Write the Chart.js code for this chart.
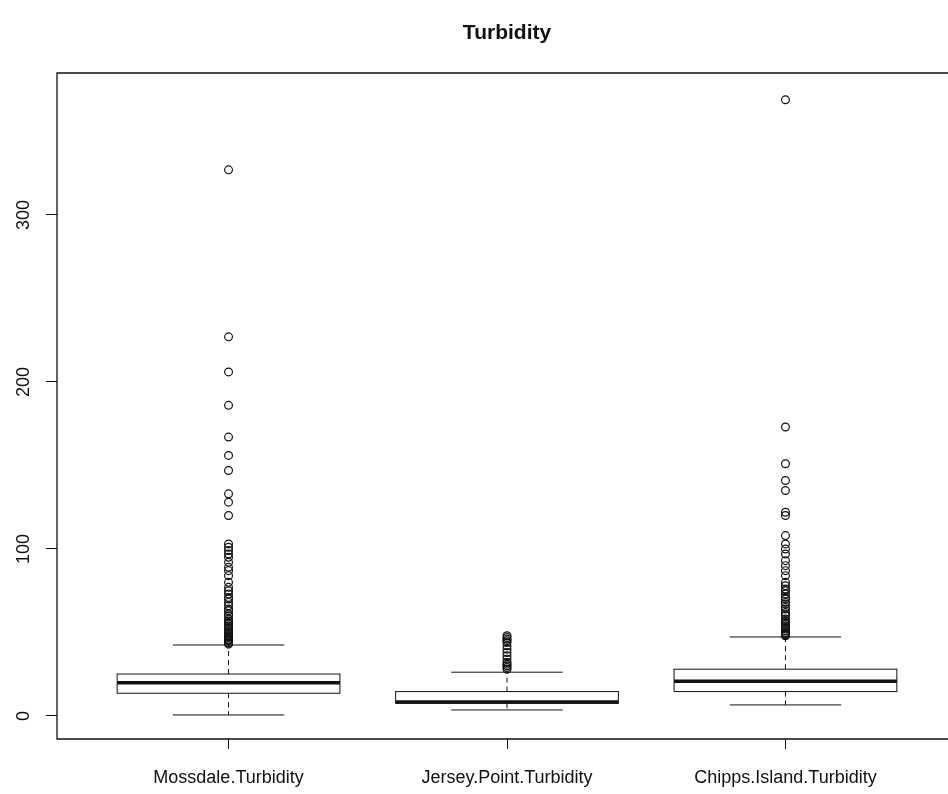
<!DOCTYPE html>
<html lang="en">
<head>
<meta charset="UTF-8">
<title>Turbidity</title>
<script src="https://cdn.jsdelivr.net/npm/chart.js@4.4.0/dist/chart.umd.min.js"></script>
<style>
  html, body { margin: 0; padding: 0; background: #fff; }
  #chart { display: block; }
</style>
</head>
<body>
<canvas id="chart" width="948" height="794"></canvas>
<script>
// valores
const categorias = ['Mossdale.Turbidity', 'Jersey.Point.Turbidity', 'Chipps.Island.Turbidity'];
const bigodeInferior = [0.6, 3.6, 6.6];
const quartil1 = [13.6, 7.6, 14.6];
const mediana = [19.9, 8.4, 20.8];
const quartil3 = [25.1, 14.6, 28.0];
const bigodeSuperior = [42.5, 26.2, 47.3];

const outliersMossdale = [327, 227, 206, 186, 167, 156, 147, 133, 128, 120,
  103, 101, 99, 97, 95, 92, 89, 87, 84, 80, 77, 75, 73, 71, 70, 68, 66, 64, 63, 61,
  60, 58, 57, 56, 55, 54, 53, 52, 51, 50, 49, 48, 47.5, 47, 46, 45.5, 45, 44, 43.5, 43];
const outliersJersey = [48, 47, 46, 45, 44, 42, 40, 38, 36, 34, 32, 31, 30, 29, 28];
const outliersChipps = [369, 173, 151, 141, 135, 122, 120, 108, 103, 100, 97, 93, 90, 87, 84,
  80, 78, 76, 75, 73, 71, 70, 68, 67, 65, 64, 62, 61, 60, 58, 57, 56, 55, 54, 53, 52,
  51, 50, 49, 48.5, 48];

const ticksY = [0, 100, 200, 300];
const titulo = 'Turbidity';

const outliers = [outliersMossdale, outliersJersey, outliersChipps];
let pontos = [];
for (let i = 0; i < outliers.length; i++) {
  for (let j = 0; j < outliers[i].length; j++) {
    pontos.push({ x: i + 1, y: outliers[i][j] });
  }
}

const cor = '#111';
const fonte = '"Liberation Sans", Arial, Helvetica, sans-serif';

// desenha caixas, bigodes, moldura, titulo e rotulos do eixo y
const boxplotPlugin = {
  id: 'boxplot',
  beforeDatasetsDraw(chart) {
    const ctx = chart.ctx;
    const sx = chart.scales.x;
    const sy = chart.scales.y;
    ctx.save();
    ctx.strokeStyle = cor;
    for (let i = 0; i < categorias.length; i++) {
      const c = i + 1;
      const xl = sx.getPixelForValue(c - 0.4);
      const xr = sx.getPixelForValue(c + 0.4);
      const xsl = sx.getPixelForValue(c - 0.2);
      const xsr = sx.getPixelForValue(c + 0.2);
      const xc = sx.getPixelForValue(c);
      const yQ1 = sy.getPixelForValue(quartil1[i]);
      const yQ3 = sy.getPixelForValue(quartil3[i]);
      const yMed = sy.getPixelForValue(mediana[i]);
      const yLo = sy.getPixelForValue(bigodeInferior[i]);
      const yHi = sy.getPixelForValue(bigodeSuperior[i]);

      // bigodes tracejados
      ctx.lineWidth = 1;
      ctx.setLineDash([5, 4]);
      ctx.beginPath();
      ctx.moveTo(xc, yQ3); ctx.lineTo(xc, yHi);
      ctx.moveTo(xc, yQ1); ctx.lineTo(xc, yLo);
      ctx.stroke();
      ctx.setLineDash([]);

      // grampos
      ctx.beginPath();
      ctx.moveTo(xsl, yHi); ctx.lineTo(xsr, yHi);
      ctx.moveTo(xsl, yLo); ctx.lineTo(xsr, yLo);
      ctx.stroke();

      // caixa
      ctx.fillStyle = '#fff';
      ctx.fillRect(xl, yQ3, xr - xl, yQ1 - yQ3);
      ctx.strokeRect(xl, yQ3, xr - xl, yQ1 - yQ3);

      // mediana
      ctx.lineWidth = 3.5;
      ctx.beginPath();
      ctx.moveTo(xl, yMed); ctx.lineTo(xr, yMed);
      ctx.stroke();
    }
    ctx.restore();
  },
  afterDraw(chart) {
    const ctx = chart.ctx;
    const area = chart.chartArea;
    const sx = chart.scales.x;
    const sy = chart.scales.y;
    ctx.save();
    // moldura (lado direito fica fora da imagem)
    ctx.strokeStyle = cor;
    ctx.lineWidth = 1.3;
    ctx.beginPath();
    ctx.moveTo(chart.width + 2, area.top);
    ctx.lineTo(area.left, area.top);
    ctx.lineTo(area.left, area.bottom);
    ctx.lineTo(chart.width + 2, area.bottom);
    ctx.stroke();

    // rotulos do eixo y girados
    ctx.fillStyle = cor;
    ctx.font = '18px ' + fonte;
    ctx.textAlign = 'center';
    ctx.textBaseline = 'alphabetic';
    for (const v of ticksY) {
      ctx.save();
      ctx.translate(29, sy.getPixelForValue(v));
      ctx.rotate(-Math.PI / 2);
      ctx.fillText(String(v), 0, 0);
      ctx.restore();
    }

    // titulo centrado na area do grafico
    ctx.font = 'bold 21px ' + fonte;
    ctx.textBaseline = 'middle';
    ctx.fillText(titulo, sx.getPixelForValue(2), 33);
    ctx.restore();
  }
};

new Chart(document.getElementById('chart'), {
  type: 'scatter',
  data: {
    datasets: [{
      label: 'outliers',
      data: pontos,
      pointStyle: 'circle',
      pointRadius: 3.9,
      pointBorderWidth: 1.2,
      pointBorderColor: cor,
      pointBackgroundColor: 'rgba(0,0,0,0)'
    }]
  },
  options: {
    responsive: false,
    animation: false,
    layout: { padding: { top: 73, left: 0, right: 0, bottom: 0 } },
    plugins: {
      legend: { display: false },
      tooltip: { enabled: false },
      title: { display: false }
    },
    scales: {
      x: {
        type: 'linear',
        min: 0.384,
        max: 3.565,
        afterBuildTicks: (s) => { s.ticks = [1, 2, 3].map(v => ({ value: v })); },
        afterFit: (s) => { s.height = 55; s.paddingLeft = 0; s.paddingRight = 0; },
        border: { display: false },
        grid: { drawOnChartArea: false, drawTicks: true, tickLength: 10, color: cor, lineWidth: 1 },
        ticks: {
          autoSkip: false,
          maxRotation: 0,
          minRotation: 0,
          padding: 18,
          color: cor,
          font: { family: fonte, size: 18 },
          callback: (v) => categorias[v - 1]
        }
      },
      y: {
        type: 'linear',
        min: -13.8,
        max: 385,
        afterBuildTicks: (s) => { s.ticks = ticksY.map(v => ({ value: v })); },
        afterFit: (s) => { s.width = 57; s.paddingTop = 0; s.paddingBottom = 0; },
        border: { display: false },
        grid: { drawOnChartArea: false, drawTicks: true, tickLength: 11, color: cor, lineWidth: 1 },
        ticks: { display: false }
      }
    }
  },
  plugins: [boxplotPlugin]
});
</script>
</body>
</html>
